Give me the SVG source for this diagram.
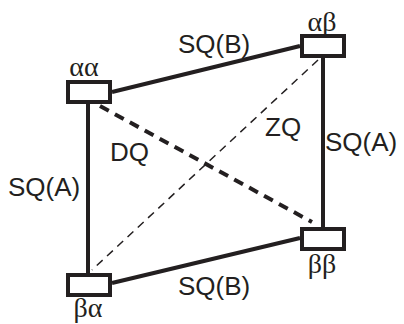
<svg xmlns="http://www.w3.org/2000/svg" width="404" height="324" viewBox="0 0 404 324">
<style>
.box{fill:#fff;stroke:#231f20;stroke-width:4}
.ln{stroke:#231f20;stroke-width:4;fill:none}
.dq{stroke:#231f20;stroke-width:4;stroke-dasharray:10 7;fill:none}
.zq{stroke:#231f20;stroke-width:1.5;stroke-dasharray:8 6;fill:none}
.t{font-family:"Liberation Sans",Arial,sans-serif;font-size:26px;fill:#231f20}
.g{font-family:"Liberation Serif","Times New Roman",serif;font-size:28px;fill:#231f20;text-anchor:middle}
</style>
<rect width="404" height="324" fill="#fff"/>
<g id="connectors">
<line class="ln" x1="88" y1="104" x2="88" y2="273"/>
<line class="ln" x1="323" y1="58" x2="323" y2="227"/>
<line class="ln" x1="112" y1="92" x2="300" y2="46"/>
<line class="ln" x1="112" y1="283" x2="300" y2="238"/>
<line class="dq" x1="100" y1="106" x2="312" y2="222"/>
<line class="zq" x1="318" y1="60" x2="92" y2="270"/>
<text class="t" x="178" y="53">SQ(B)</text>
<text class="t" x="178" y="295">SQ(B)</text>
<text class="t" x="8" y="196">SQ(A)</text>
<text class="t" x="325" y="151">SQ(A)</text>
<text class="t" x="110" y="161">DQ</text>
<text class="t" x="265" y="136">ZQ</text>
</g>
<g id="aa">
<rect class="box" x="68" y="82" width="42" height="20"/>
<text class="g" x="84" y="76">αα</text>
</g>
<g id="ab">
<rect class="box" x="302" y="36" width="42" height="20"/>
<text class="g" x="322" y="31">αβ</text>
</g>
<g id="ba">
<rect class="box" x="68" y="275" width="42" height="20"/>
<text class="g" x="88" y="317">βα</text>
</g>
<g id="bb">
<rect class="box" x="302" y="229" width="42" height="20"/>
<text class="g" x="322" y="273">ββ</text>
</g>
</svg>
